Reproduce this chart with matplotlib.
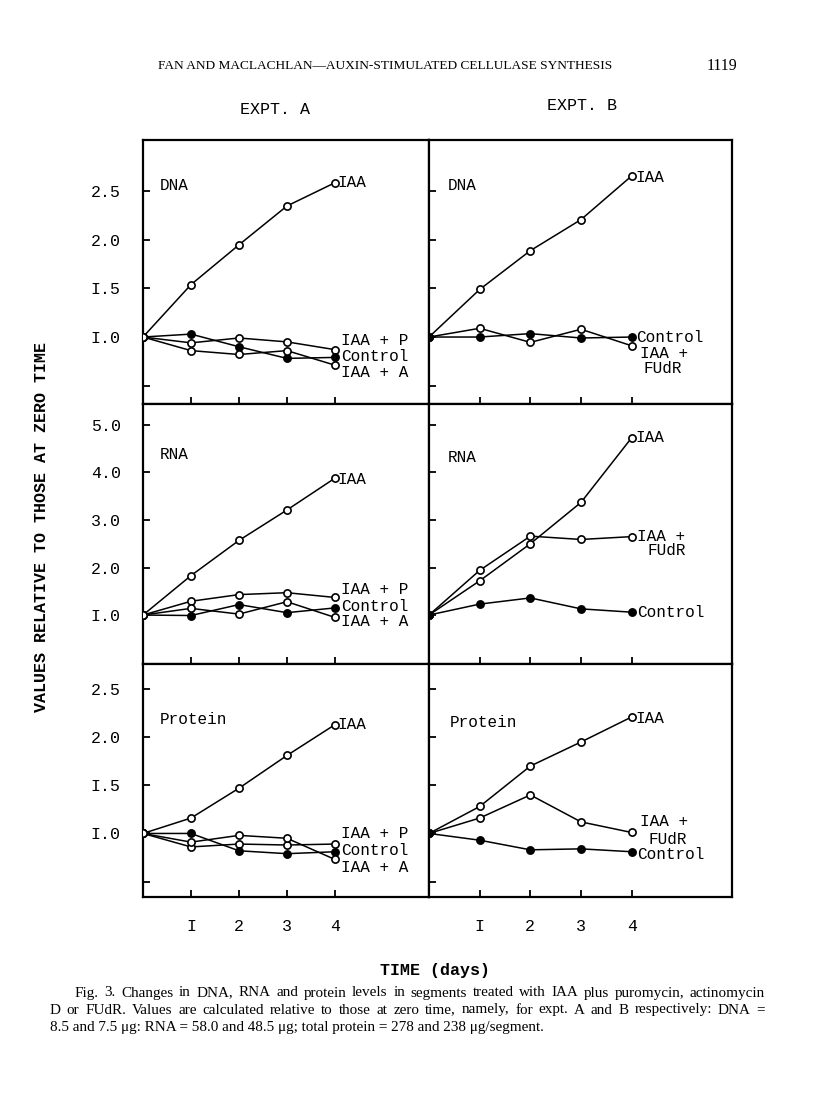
import matplotlib.pyplot as plt

days = [0, 1, 2, 3, 4]

# Expt. A  (values relative to zero time)
dna_a_iaa = [1.0, 1.54, 1.95, 2.35, 2.59]
dna_a_iaa_p = [1.0, 0.94, 0.99, 0.95, 0.87]
dna_a_control = [1.0, 1.03, 0.90, 0.78, 0.79]
dna_a_iaa_a = [1.0, 0.86, 0.82, 0.86, 0.71]

rna_a_iaa = [1.0, 1.83, 2.57, 3.21, 3.88]
rna_a_iaa_p = [1.0, 1.29, 1.43, 1.47, 1.37]
rna_a_control = [1.0, 0.99, 1.22, 1.05, 1.15]
rna_a_iaa_a = [1.0, 1.14, 1.02, 1.28, 0.95]

prot_a_iaa = [1.0, 1.16, 1.47, 1.81, 2.13]
prot_a_iaa_p = [1.0, 0.86, 0.89, 0.88, 0.89]
prot_a_control = [1.0, 1.0, 0.82, 0.79, 0.81]
prot_a_iaa_a = [1.0, 0.91, 0.98, 0.95, 0.73]

# Expt. B
dna_b_iaa = [1.0, 1.49, 1.89, 2.21, 2.66]
dna_b_control = [1.0, 1.0, 1.035, 0.99, 1.0]
dna_b_fudr = [1.0, 1.09, 0.945, 1.08, 0.91]

rna_b_iaa = [1.0, 1.72, 2.50, 3.37, 4.73]
rna_b_fudr = [1.0, 1.94, 2.66, 2.59, 2.65]
rna_b_control = [1.0, 1.23, 1.36, 1.13, 1.06]

prot_b_iaa = [1.0, 1.28, 1.70, 1.95, 2.21]
prot_b_fudr = [1.0, 1.16, 1.40, 1.12, 1.01]
prot_b_control = [1.0, 0.93, 0.83, 0.84, 0.81]

day_labels = ['I', '2', '3', '4']
small_ticks = [0.5, 1.0, 1.5, 2.0, 2.5]
small_labels = ['', 'I.0', 'I.5', '2.0', '2.5']
rna_ticks = [1, 2, 3, 4, 5]
rna_labels = ['I.0', '2.0', '3.0', '4.0', '5.0']

MONO = 'Liberation Mono'
SERIF = 'Liberation Serif'
W, H = 816, 1109

fig = plt.figure(figsize=(W / 100, H / 100), dpi=100)


def px_axes(x0, y0, x1, y1):
    return fig.add_axes([x0 / W, 1 - y1 / H, (x1 - x0) / W, (y1 - y0) / H])


def line(ax, vals, filled):
    ax.plot(days, vals, color='black', lw=1.1, marker='o', ms=5.2, mew=1.2,
            mfc='black' if filled else 'white', mec='black', zorder=3)


cols = [(143, 429, 5.96), (429, 732, 5.98)]
rows = [(140, 404, (0.31, 3.03), small_ticks, small_labels),
        (404, 664, (-0.03, 5.44), rna_ticks, rna_labels),
        (664, 897, (0.34, 2.76), small_ticks, small_labels)]

panels = [
    # (row, col, name, name_pos, series, labels)
    (0, 0, 'DNA', (0.059, 0.826),
     [(dna_a_iaa, False), (dna_a_iaa_p, False), (dna_a_control, True), (dna_a_iaa_a, False)],
     [('IAA', 4.06, 2.59), ('IAA + P', 4.12, 0.96), ('Control', 4.12, 0.80), ('IAA + A', 4.12, 0.63)]),
    (1, 0, 'RNA', (0.059, 0.804),
     [(rna_a_iaa, False), (rna_a_iaa_p, False), (rna_a_control, True), (rna_a_iaa_a, False)],
     [('IAA', 4.06, 3.86), ('IAA + P', 4.12, 1.54), ('Control', 4.12, 1.17), ('IAA + A', 4.12, 0.86)]),
    (2, 0, 'Protein', (0.059, 0.76),
     [(prot_a_iaa, False), (prot_a_iaa_p, False), (prot_a_control, True), (prot_a_iaa_a, False)],
     [('IAA', 4.06, 2.13), ('IAA + P', 4.12, 1.0), ('Control', 4.12, 0.82), ('IAA + A', 4.12, 0.65)]),
    (0, 1, 'DNA', (0.063, 0.826),
     [(dna_b_iaa, False), (dna_b_fudr, False), (dna_b_control, True)],
     [('IAA', 4.08, 2.64), ('Control', 4.08, 1.0), ('IAA +', 4.16, 0.83), ('FUdR', 4.24, 0.675)]),
    (1, 1, 'RNA', (0.063, 0.796),
     [(rna_b_iaa, False), (rna_b_fudr, False), (rna_b_control, True)],
     [('IAA', 4.08, 4.73), ('IAA +', 4.1, 2.65), ('FUdR', 4.32, 2.36), ('Control', 4.1, 1.06)]),
    (2, 1, 'Protein', (0.07, 0.751),
     [(prot_b_iaa, False), (prot_b_fudr, False), (prot_b_control, True)],
     [('IAA', 4.08, 2.19), ('IAA +', 4.16, 1.12), ('FUdR', 4.34, 0.94), ('Control', 4.1, 0.78)]),
]

for r, c, name, npos, series, labels in panels:
    x0, x1, xmax = cols[c]
    y0, y1, ylim, yt, ytl = rows[r]
    ax = px_axes(x0, y0, x1, y1)
    for vals, filled in series:
        line(ax, vals, filled)
    ax.set_xlim(0, xmax)
    ax.set_ylim(*ylim)
    ax.set_xticks([1, 2, 3, 4])
    ax.set_yticks(yt)
    ax.set_xticklabels(day_labels if r == 2 else [''] * 4, fontfamily=MONO, fontsize=12)
    ax.set_yticklabels(ytl if c == 0 else [''] * len(yt), fontfamily=MONO, fontsize=12)
    ax.tick_params(direction='in', length=5, width=1.3, pad=16)
    for s in ax.spines.values():
        s.set_linewidth(1.6)
    ax.text(npos[0], npos[1], name, transform=ax.transAxes, fontfamily=MONO,
            fontsize=11.5, va='center', ha='left')
    for txt, lx, ly in labels:
        ax.text(lx, ly, txt, fontfamily=MONO, fontsize=11.5, va='center', ha='left')

# page furniture
fig.text(158 / W, 1 - 66 / H, 'FAN AND MACLACHLAN\u2014AUXIN-STIMULATED CELLULASE SYNTHESIS',
         fontfamily=SERIF, fontsize=9.6, va='center', ha='left')
fig.text(737 / W, 1 - 66 / H, '1119', fontfamily=SERIF, fontsize=11.5, va='center', ha='right')
fig.text(275 / W, 1 - 110 / H, 'EXPT. A', fontfamily=MONO, fontsize=12, va='center', ha='center')
fig.text(582 / W, 1 - 105 / H, 'EXPT. B', fontfamily=MONO, fontsize=12, va='center', ha='center')
fig.text(42 / W, 1 - 527 / H, 'VALUES RELATIVE TO THOSE AT ZERO TIME', fontfamily=MONO,
         fontsize=12, fontweight='bold', rotation=90, va='center', ha='center')
fig.text(435 / W, 1 - 971 / H, 'TIME (days)', fontfamily=MONO, fontsize=12,
         fontweight='bold', va='center', ha='center')

# caption: first two lines justified to the right margin
caption = [
    (75, 993, 'Fig. 3.  Changes in DNA, RNA and protein levels in segments treated with IAA plus puromycin, actinomycin', True),
    (50, 1010, 'D or FUdR.  Values are calculated relative to those at zero time, namely, for expt. A and B respectively: DNA =', True),
    (50, 1027, '8.5 and 7.5 \u03bcg: RNA = 58.0 and 48.5 \u03bcg; total protein = 278 and 238 \u03bcg/segment.', False),
]
cap_size = 10.9
right_edge = 765
renderer = fig.canvas.get_renderer()
for cx, cy, txt, justify in caption:
    if not justify:
        fig.text(cx / W, 1 - cy / H, txt, fontfamily=SERIF, fontsize=cap_size, va='center', ha='left')
        continue
    words = txt.split()
    items = [fig.text(0, 1 - cy / H, w, fontfamily=SERIF, fontsize=cap_size, va='center', ha='left')
             for w in words]
    widths = [t.get_window_extent(renderer).width for t in items]
    gap = (right_edge - cx - sum(widths)) / (len(words) - 1)
    x = cx
    for t, w in zip(items, widths):
        t.set_x(x / W)
        x += w + gap

fig.savefig('out.png', dpi=100)
